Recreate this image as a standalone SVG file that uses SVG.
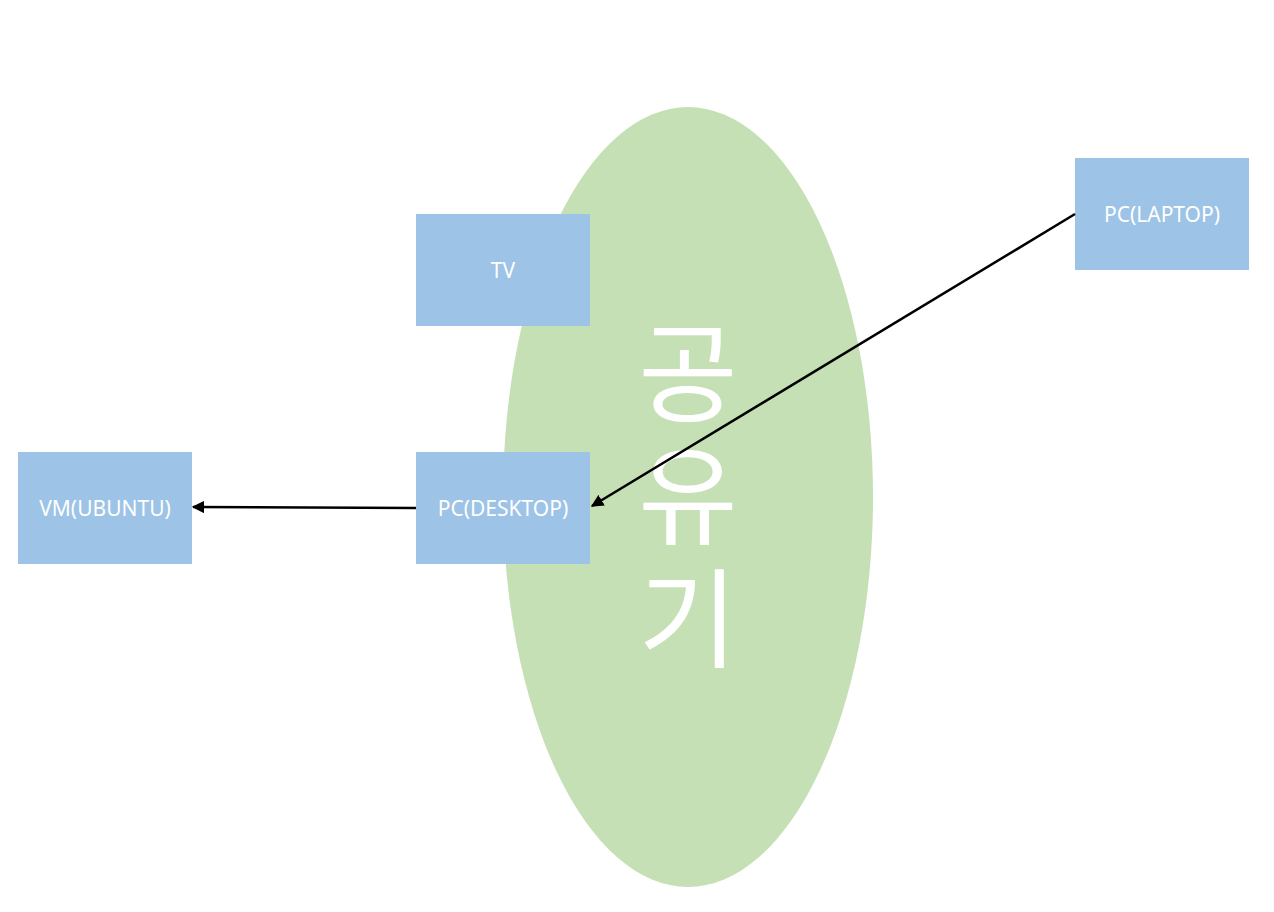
<svg xmlns="http://www.w3.org/2000/svg" width="1274" height="912" viewBox="0 0 1274 912">
<style>
.box{fill:#9DC3E6;}
.lbl{fill:#FFFFFF;font-family:"Noto Sans","Liberation Sans",sans-serif;font-size:21px;text-anchor:middle;}
.big{fill:#FFFFFF;font-family:"Noto Sans CJK KR","Noto Sans",sans-serif;font-size:108px;writing-mode:vertical-rl;text-orientation:upright;letter-spacing:15px;}
.conn{stroke:#000000;stroke-width:2.5;fill:none;}
</style>
<defs>
<marker id="arr" viewBox="0 0 10 10" refX="9" refY="5" markerWidth="5" markerHeight="5" orient="auto" markerUnits="strokeWidth">
<path d="M0,0 L10,5 L0,10 z" fill="#000000"/>
</marker>
</defs>
<rect width="1274" height="912" fill="#FFFFFF"/>
<g id="router">
<ellipse cx="688" cy="497" rx="185" ry="390" fill="#C5E0B4"/>
<text class="big" x="688" y="318">공유기</text>
</g>
<g id="tv">
<rect class="box" x="416" y="214" width="174" height="112"/>
<text class="lbl" x="503" y="278">TV</text>
</g>
<g id="desktop">
<rect class="box" x="416" y="452" width="174" height="112"/>
<text class="lbl" x="503" y="516">PC(DESKTOP)</text>
</g>
<g id="vm">
<rect class="box" x="18" y="452" width="174" height="112"/>
<text class="lbl" x="105" y="516">VM(UBUNTU)</text>
</g>
<g id="laptop">
<rect class="box" x="1075" y="158" width="174" height="112"/>
<text class="lbl" x="1162" y="222">PC(LAPTOP)</text>
</g>
<g id="connectors">
<line class="conn" x1="416" y1="508" x2="193" y2="507" marker-end="url(#arr)"/>
<line class="conn" x1="1075" y1="214" x2="592" y2="506" marker-end="url(#arr)"/>
</g>
</svg>
